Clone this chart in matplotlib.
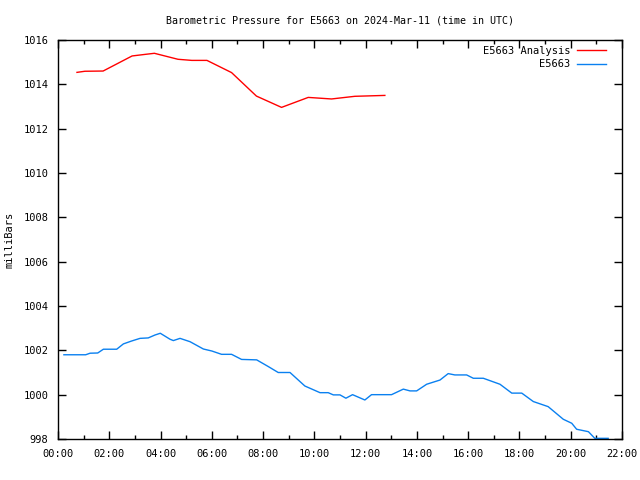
import numpy as np
import matplotlib
matplotlib.use("Agg")
import matplotlib.pyplot as plt

# analysis series (hours UTC, mbar)
ana_hours = [0.74, 1.05, 1.76, 2.89, 3.39, 3.76, 4.68, 5.22, 5.81, 6.77,
             7.74, 8.72, 9.76, 10.67, 11.58, 12.75]
ana_mbar = [1014.54, 1014.59, 1014.60, 1015.28, 1015.35, 1015.40, 1015.13,
            1015.08, 1015.08, 1014.53, 1013.47, 1012.96, 1013.41, 1013.34,
            1013.46, 1013.50]

# observed series
obs_hours = [0.23, 1.08, 1.25, 1.55, 1.77, 2.29, 2.55, 2.87, 3.20, 3.52,
             3.78, 3.99, 4.37, 4.50, 4.76, 5.15, 5.67, 6.00, 6.38, 6.77,
             7.16, 7.75, 8.20, 8.59, 9.05, 9.63, 10.22, 10.54, 10.74, 11.00,
             11.23, 11.49, 11.97, 12.23, 13.01, 13.47, 13.73, 13.99, 14.38,
             14.90, 15.22, 15.48, 15.94, 16.20, 16.59, 17.24, 17.70, 18.09,
             18.54, 19.12, 19.71, 20.04, 20.23, 20.69, 20.94, 21.46]
obs_mbar = [1001.80, 1001.80, 1001.87, 1001.88, 1002.05, 1002.05, 1002.29,
            1002.42, 1002.54, 1002.56, 1002.69, 1002.77, 1002.50, 1002.44,
            1002.54, 1002.39, 1002.06, 1001.97, 1001.82, 1001.82, 1001.59,
            1001.57, 1001.27, 1001.00, 1001.00, 1000.39, 1000.09, 1000.09,
            999.99, 999.99, 999.84, 1000.00, 999.76, 1000.00, 1000.00,
            1000.25, 1000.17, 1000.17, 1000.47, 1000.66, 1000.95, 1000.89,
            1000.89, 1000.74, 1000.74, 1000.47, 1000.07, 1000.07, 999.69,
            999.46, 998.89, 998.71, 998.44, 998.33, 998.03, 998.03]

xticks = list(range(0, 23, 2))
xlabels = ["%02d:00" % h for h in xticks]
yticks = list(range(998, 1017, 2))

plt.rcParams['font.family'] = 'DejaVu Sans Mono'
plt.rcParams['font.size'] = 7.5

fig = plt.figure(figsize=(6.4, 4.8), dpi=100)
ax = fig.add_axes([58 / 640, 1 - 439 / 480, 564 / 640, 399 / 480])

ax.plot(ana_hours, ana_mbar, color='#ff0000', lw=1, label='E5663 Analysis')
ax.plot(obs_hours, obs_mbar, color='#0a80f0', lw=1, label='E5663')

ax.set_xlim(0, 22)
ax.set_ylim(998, 1016)
ax.set_xticks(xticks)
ax.set_xticklabels(xlabels)
ax.set_xticks(range(1, 22, 2), minor=True)
ax.set_yticks(yticks)
ax.tick_params(which='both', direction='in', top=True, right=True, width=1)
ax.tick_params(which='major', length=6, pad=7)
ax.tick_params(which='minor', length=3)
for s in ax.spines.values():
    s.set_linewidth(1)

ax.set_ylabel('milliBars', labelpad=6)
ax.set_title('Barometric Pressure for E5663 on 2024-Mar-11 (time in UTC)',
             fontsize=7.2, pad=12)

leg = ax.legend(loc='upper right', bbox_to_anchor=(0.981, 1.0), frameon=False,
                markerfirst=False, handlelength=2.7, borderaxespad=0.15,
                labelspacing=0.35, handletextpad=0.7)
for t in leg.get_texts():
    t.set_ha('right')

fig.savefig('out.png', dpi=100)
